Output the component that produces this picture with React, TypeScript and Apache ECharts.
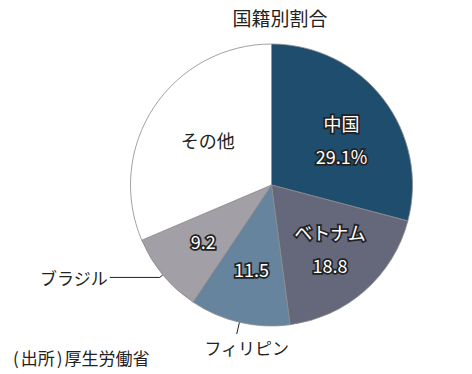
import React, { useEffect, useRef } from "react";
import * as echarts from "echarts";

const categories = ["中国", "ベトナム", "フィリピン", "ブラジル", "その他"];
const shares = [29.1, 18.8, 11.5, 9.2, 31.4];
const valueLabels = ["29.1%", "18.8", "11.5", "9.2", ""];
const insideNames = ["中国", "ベトナム", "", "", "その他"];
const outsideNames = ["", "", "フィリピン", "ブラジル", ""];
const colors = ["#1f4d6e", "#64687a", "#67849f", "#a39fa6", "#ffffff"];
const labelOffsets = [[0, 9], [0, -3], [0, -2], [0, 0], [10, 4]];

const FONT = "'Noto Sans CJK JP', 'Noto Sans', sans-serif";

export default function App() {
  const ref = useRef<HTMLDivElement>(null);
  useEffect(() => {
    if (!ref.current) return;
    const chart = echarts.init(ref.current, undefined, { renderer: "svg" });
    const center = [271.5, 185];
    const R = 141;

    const baseData = categories.map((c, i) => ({
      name: c,
      value: shares[i],
      itemStyle: { color: colors[i] },
      label: outsideNames[i]
        ? {
            show: true,
            position: "outside",
            formatter: outsideNames[i],
            color: "#222",
            fontSize: 17,
            fontFamily: FONT,
            distanceToLabelLine: 2,
          }
        : { show: false },
      labelLine: outsideNames[i]
        ? {
            show: true,
            length: i === 2 ? 12 : 4,
            length2: i === 2 ? 0 : 50,
            lineStyle: { color: "#222", width: 1 },
          }
        : { show: false },
    }));

    const labelData = categories.map((c, i) => {
      const lines: string[] = [];
      if (insideNames[i]) lines.push(insideNames[i]);
      if (valueLabels[i]) lines.push(valueLabels[i]);
      const isOther = i === 4;
      return {
        name: c,
        value: shares[i],
        label: {
          show: true,
          position: "inside",
          formatter: lines.join("\n"),
          offset: labelOffsets[i],
          color: isOther ? "#222" : "#ffffff",
          textBorderColor: isOther ? "transparent" : "#222",
          textBorderWidth: isOther ? 0 : 3.5,
          fontSize: 18,
          lineHeight: 33,
          fontFamily: FONT,
        },
      };
    });

    chart.setOption({
      animation: false,
      title: {
        text: "国籍別割合",
        left: 275,
        top: 3,
        textAlign: "center",
        textStyle: { fontSize: 19, fontWeight: "normal", color: "#222", fontFamily: FONT },
      },
      graphic: [
        {
          type: "text",
          left: 13,
          top: 349,
          style: {
            text: "{p|(}出所{p|)}厚生労働省",
            fontSize: 17,
            fill: "#222",
            fontFamily: FONT,
            rich: {
              p: { fontSize: 17, fill: "#222", fontFamily: FONT, padding: [0, 2] },
            },
          },
        },
      ],
      series: [
        {
          type: "pie",
          center,
          radius: [0, R],
          startAngle: 90,
          clockwise: true,
          silent: true,
          itemStyle: { borderColor: "#8a8a8a", borderWidth: 0.8 },
          data: baseData,
          labelLayout: (params: any) => {
            if (params.dataIndex === 2 && params.labelLinePoints) {
              const p = params.labelLinePoints;
              const end = p[1];
              return {
                x: end[0] + 10,
                y: end[1] + 5,
                align: "center",
                verticalAlign: "top",
                labelLinePoints: [p[0], end, end],
              };
            }
            return {};
          },
        },
        {
          type: "pie",
          center,
          radius: [30, R],
          startAngle: 90,
          clockwise: true,
          silent: true,
          itemStyle: { color: "transparent", borderWidth: 0 },
          labelLine: { show: false },
          data: labelData,
        },
      ],
    });
    return () => chart.dispose();
  }, []);
  return (
    <div
      ref={ref}
      style={{ position: "fixed", left: 0, top: 0, width: 472, height: 374, background: "#fff" }}
    />
  );
}
